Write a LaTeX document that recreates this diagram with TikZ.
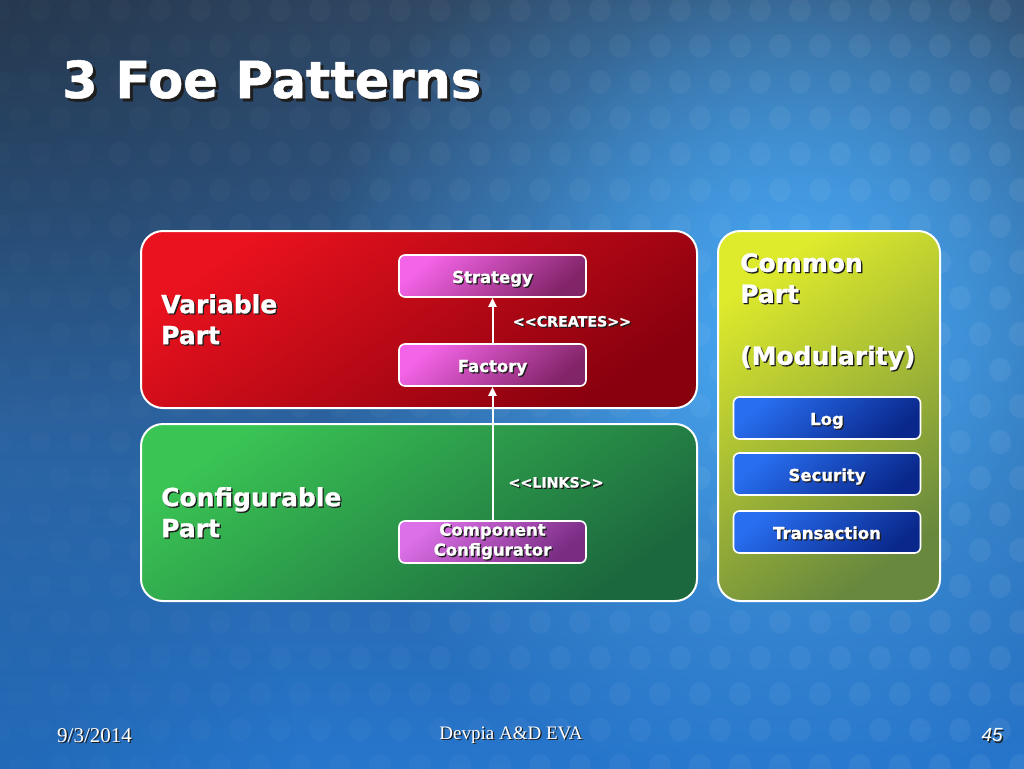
\documentclass[tikz,border=0pt]{standalone}
\usepackage{fontspec}
\setmainfont{DejaVu Sans}[BoldFeatures={FakeBold=1}]
\newfontfamily\footfont{Liberation Serif}
\newfontfamily\numfont{Liberation Sans}
\usetikzlibrary{fadings,arrows.meta}
\tikzfading[name=fadeout, inner color=transparent!0, outer color=transparent!100]
\definecolor{bgtop}{RGB}{48,72,100}
\definecolor{bgbot}{RGB}{38,118,205}
\definecolor{bgspot}{RGB}{72,168,245}
\definecolor{redA}{RGB}{234,18,30}
\definecolor{redB}{RGB}{136,0,14}
\definecolor{grnA}{RGB}{58,196,84}
\definecolor{grnB}{RGB}{28,104,62}
\definecolor{yelA}{RGB}{222,234,44}
\definecolor{yelB}{RGB}{104,136,62}
\definecolor{magA}{RGB}{244,100,232}
\definecolor{magB}{RGB}{130,36,104}
\definecolor{vioA}{RGB}{220,112,232}
\definecolor{vioB}{RGB}{120,44,130}
\definecolor{bluA}{RGB}{40,110,240}
\definecolor{bluB}{RGB}{10,40,140}
\definecolor{shadowc}{RGB}{30,30,30}
\newcommand\sh[1]{\leavevmode\rlap{\kern1.3pt\raisebox{-1.3pt}{\color{shadowc}#1}}#1}
\newcommand\shbig[1]{\leavevmode\rlap{\kern3pt\raisebox{-3pt}{\color{shadowc}#1}}#1}
\tikzset{
  panel/.style n args={2}{draw=white, line width=2pt, rounded corners=22pt,
    top color=#1, bottom color=#2, shading angle=35, inner sep=0pt},
  box/.style n args={2}{draw=white, line width=1.6pt, rounded corners=6pt,
    top color=#1, bottom color=#2, shading angle=40, inner sep=0pt,
    minimum width=187pt, minimum height=42pt, text=white,
    font=\fontsize{16.5}{20}\selectfont\bfseries, align=center},
  boxone/.style n args={2}{box={#1}{#2}, text height=17pt, text depth=3pt},
  plabel/.style={anchor=north west, text=white, align=left, inner sep=0pt,
    font=\fontsize{25}{31}\selectfont\bfseries},
  stereo/.style={text=white, inner sep=0pt, font=\fontsize{14.2}{16}\selectfont\bfseries},
  link/.style={draw=white, line width=2pt, -{Triangle[length=9pt,width=8pt]}},
  foot/.style={text=white, inner sep=0pt, font=\footfont\fontsize{19}{20}\selectfont}
}
\begin{document}
\begin{tikzpicture}[x=1pt,y=-1pt]
\useasboundingbox (0,0) rectangle (1024,768);
% background
\shade[top color=bgtop, bottom color=bgbot] (0,0) rectangle (1024,768);
\fill[bgspot, path fading=fadeout] (780,330) circle (470);
\fill[bgspot, opacity=0.5, path fading=fadeout] (820,260) circle (300);
\fill[black, opacity=0.22, path fading=fadeout] (0,0) circle (420);
\fill[black, opacity=0.1, path fading=fadeout] (0,768) circle (300);
\begin{scope}
\clip (0,0) rectangle (1024,768);
\foreach \i in {0,...,26}{
  \foreach \j in {0,...,21}{
    \pgfmathsetmacro{\xx}{\i*40+mod(\j,2)*20}
    \pgfmathsetmacro{\yy}{\j*36+10}
    \pgfmathsetmacro{\op}{0.012+0.05*\xx/1024}
    \fill[white, opacity=\op] (\xx,\yy) ellipse (11pt and 12pt);
  }
}
\end{scope}
% title
\node[anchor=base west, inner sep=0pt, text=white, font=\fontsize{51}{60}\selectfont\bfseries] (title) at (62,98) {\shbig{3 Foe Patterns}};
% panels
\node[panel={redA}{redB}, minimum width=556pt, minimum height=177pt] (var) at (419,319.5) {};
\node[panel={grnA}{grnB}, minimum width=556pt, minimum height=177pt] (conf) at (419,512.5) {};
\node[panel={yelA}{yelB}, minimum width=222pt, minimum height=370pt] (com) at (829,416) {};
% panel labels
\node[plabel] (varl) at (161,294) {\sh{Variable}\\\sh{Part}};
\node[plabel] (confl) at (161,487) {\sh{Configurable}\\\sh{Part}};
\node[plabel] (coml) at (740,253) {\sh{Common}\\\sh{Part}\\[31pt]\sh{(Modularity)}};
% inner boxes
\node[boxone={magA}{magB}] (str) at (492.5,276) {\sh{Strategy}};
\node[boxone={magA}{magB}] (fac) at (492.5,365) {\sh{Factory}};
\node[box={vioA}{vioB}] (cc) at (492.5,542) {\sh{Component}\\\sh{Configurator}};
\node[boxone={bluA}{bluB}] (log) at (827,418) {\sh{Log}};
\node[boxone={bluA}{bluB}] (sec) at (827,474) {\sh{Security}};
\node[boxone={bluA}{bluB}] (tra) at (827,532) {\sh{Transaction}};
% connectors
\draw[link] (fac.north) -- (str.south);
\draw[link] (cc.north) -- (fac.south);
\node[stereo] (creates) at (572,322) {\sh{<{}<CREATES>{}>}};
\node[stereo] (links) at (556,483) {\sh{<{}<LINKS>{}>}};
% footer
\node[foot, anchor=west, font=\footfont\fontsize{21}{22}\selectfont] (date) at (57,736) {\sh{9/3/2014}};
\node[foot] (org) at (511,736) {\sh{Devpia A\&D EVA}};
\node[foot, anchor=east, font=\numfont\itshape\fontsize{19}{20}\selectfont] (num) at (1003,736) {\sh{45}};
\end{tikzpicture}
\end{document}
